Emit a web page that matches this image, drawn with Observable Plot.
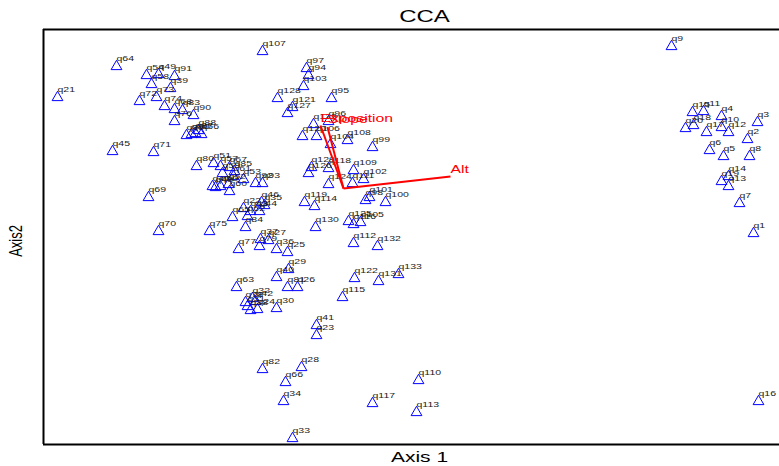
<!DOCTYPE html>
<html><head><meta charset="utf-8">
<script src="https://cdn.jsdelivr.net/npm/d3@7"></script>
<script src="https://cdn.jsdelivr.net/npm/@observablehq/plot@0.6"></script>
<style>body{margin:0;background:#fff} #chart svg{display:block}</style>
</head><body><div id="chart"></div>
<script>
const siteLabels = ["q1","q2","q3","q4","q5","q6","q7","q8","q9","q10","q11","q12","q13","q14","q15","q16","q17","q18","q19","q20",
"q21","q22","q23","q24","q25","q26","q27","q28","q29","q30","q31","q32","q33","q34","q35","q36","q37","q38","q39","q40",
"q41","q42","q43","q44","q45","q46","q47","q48","q49","q50","q51","q52","q53","q54","q56","q57","q58","q59","q60",
"q61","q62","q63","q64","q65","q66","q67","q68","q69","q70","q71","q72","q73","q74","q75","q76","q77","q78","q79","q80",
"q81","q82","q83","q84","q85","q86","q87","q88","q89","q90","q91","q92","q93","q94","q95","q96","q97","q98","q99","q100",
"q101","q102","q103","q104","q105","q106","q107","q108","q109","q110","q111","q112","q113","q114","q115","q116","q117","q118","q119","q120",
"q121","q122","q123","q124","q125","q126","q127","q128","q129","q130","q131","q132","q133"];
const axis1 = [4.10,4.04,4.14,3.78,3.80,3.66,3.96,4.06,3.28,3.78,3.60,3.85,3.85,3.85,3.49,4.15,3.63,3.50,3.78,3.42,
-2.86,-1.00,-0.27,-0.86,-0.56,-0.46,-0.75,-0.42,-0.55,-0.67,-0.96,-0.91,-0.51,-0.60,-0.79,-0.67,-0.83,-0.93,-1.73,-0.67,
-0.27,-0.88,-0.93,-0.84,-2.31,-0.82,-1.31,-1.28,-1.85,-1.23,-1.30,-1.15,-1.00,-1.97,-1.42,-1.23,-1.92,-1.21,-1.14,
-1.10,-0.96,-1.07,-2.27,-1.11,-0.58,-1.14,-1.69,-1.95,-1.85,-1.90,-2.04,-1.87,-1.79,-1.34,-1.69,-1.05,-0.98,-0.84,-1.47,
-0.56,-0.81,-1.61,-0.98,-1.09,-1.52,-1.48,-1.45,-1.57,-1.50,-1.69,-0.88,-0.81,-0.35,-0.12,-0.15,-0.37,0.22,0.29,0.42,
0.26,0.20,-0.40,-0.13,0.17,-0.27,-0.81,0.04,0.10,0.75,0.09,0.10,0.73,-0.29,-0.01,0.10,0.29,-0.15,-0.39,-0.41,
-0.51,0.11,-0.30,-0.15,0.05,-0.35,-0.56,-0.66,-0.32,-0.28,0.35,0.34,0.55];
const axis2 = [-0.45,0.49,0.66,0.72,0.32,0.38,-0.15,0.32,1.42,0.61,0.77,0.56,0.02,0.12,0.76,-2.13,0.56,0.63,0.07,0.60,
0.91,-0.20,-1.47,-1.21,-0.64,-0.99,-0.52,-1.79,-0.81,-1.20,-1.18,-1.10,-2.50,-2.13,-0.17,-0.61,-0.51,-1.22,1.00,-0.89,
-1.37,-1.13,-0.23,-0.23,0.37,-0.14,0.02,0.01,1.14,0.02,0.25,0.04,0.09,1.13,0.54,0.22,1.04,0.15,-0.03,
0.12,-0.28,-0.99,1.22,-0.29,-1.94,0.21,0.79,-0.09,-0.43,0.36,0.87,0.91,0.82,-0.43,0.67,-0.61,-1.14,-0.58,0.22,
-0.99,-1.81,0.78,-0.39,0.17,0.54,0.55,0.58,0.53,0.73,1.12,0.05,0.05,1.13,0.90,0.67,1.20,-0.12,0.41,-0.14,
-0.09,0.09,1.02,0.44,-0.34,0.52,1.37,0.48,0.18,-1.92,0.05,-0.55,-2.24,-0.18,-1.09,-0.36,-2.15,0.20,-0.14,0.52,
0.81,-0.90,0.64,0.04,-0.33,0.15,0.75,0.90,0.21,-0.39,-0.93,-0.58,-0.86];

const envNames = ["Alt", "Exposition", "Slope"];
const envAxis1 = [1.07, -0.23, -0.16];
const envAxis2 = [0.12, 0.63, 0.615];
const envOrigin = [0, 0];

const xLimits = [-3.0, 4.36];
const yLimits = [-2.56, 1.59];

const sites = siteLabels.map((label, i) => ({label, x: axis1[i], y: axis2[i]}));
const env = envNames.map((name, i) => ({name, x1: envOrigin[0], y1: envOrigin[1], x: envAxis1[i], y: envAxis2[i]}));

const plot = Plot.plot({
  width: 779, height: 466,
  marginLeft: 43, marginRight: 0, marginTop: 29, marginBottom: 22,
  style: {fontFamily: "'Liberation Sans', Arial, sans-serif", background: "#fff", color: "#000"},
  x: {domain: xLimits, axis: null},
  y: {domain: yLimits, axis: null},
  marks: [
    Plot.ruleX([xLimits[0]], {stroke: "#000", strokeWidth: 2}),
    Plot.ruleY(yLimits, {stroke: "#000", strokeWidth: 2}),
    Plot.dot(sites, {x: "x", y: "y", symbol: "triangle", r: 4, stroke: "#0000ff", fill: "none", strokeWidth: 1}),
    Plot.text(sites, {x: "x", y: "y", text: "label", textAnchor: "start", dy: -8, fontSize: 7, fill: "#1a1a1a"}),
    Plot.link(env, {x1: "x1", y1: "y1", x2: "x", y2: "y", stroke: "#ff0000", strokeWidth: 2}),
    Plot.text(env, {x: "x", y: "y", text: "name", textAnchor: "start", dx: 0, dy: -7, fontSize: 10.5, fill: "#ff0000"}),
    Plot.text(["CCA"], {frameAnchor: "top", lineAnchor: "middle", textAnchor: "middle", dy: -13, dx: 13, fontSize: 16, fill: "#000"}),
    Plot.text(["Axis 1"], {frameAnchor: "bottom", lineAnchor: "middle", textAnchor: "middle", dy: 13, dx: 8, fontSize: 14, fill: "#000"}),
    Plot.text(["Axis2"], {frameAnchor: "left", lineAnchor: "middle", textAnchor: "middle", dx: -27, dy: 4, rotate: -90, fontSize: 13, fill: "#000"})
  ]
});

d3.select(plot).selectAll("text").each(function() {
  const t = this.getAttribute("transform") || "";
  if (t.includes("rotate")) {
    this.setAttribute("transform", t.replace("rotate", "scale(1.4,1) rotate"));
  } else {
    this.setAttribute("transform", t + " scale(1.5,1)");
  }
});

document.getElementById("chart").appendChild(plot);
</script>
</body></html>
